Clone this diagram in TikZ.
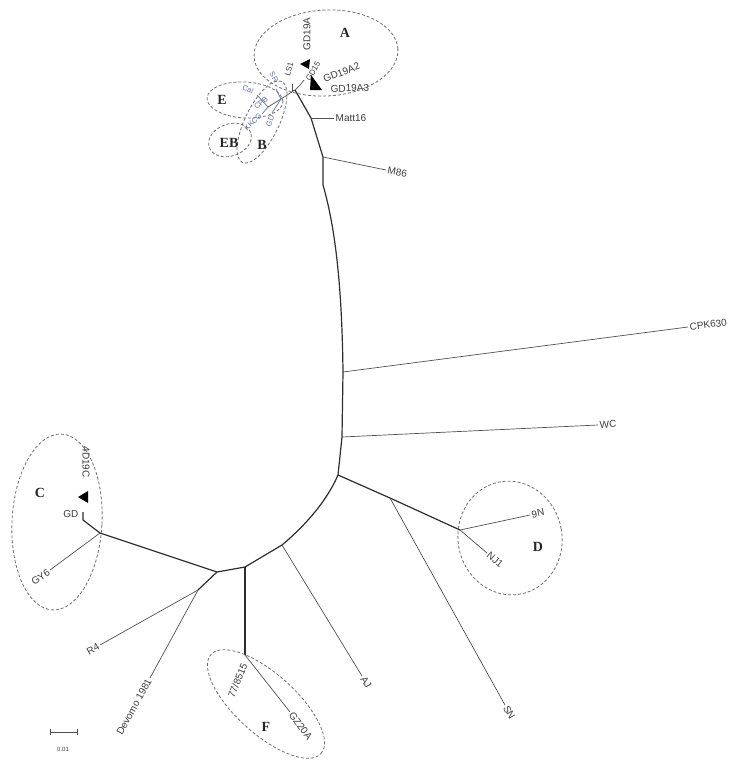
\documentclass[tikz,border=0pt]{standalone}
\usepackage{fontspec}
\setmainfont{Liberation Serif}
\setsansfont{Liberation Sans}
\usetikzlibrary{positioning, calc}
\definecolor{branchgray}{HTML}{2E2E2E}
\definecolor{leafgray}{HTML}{505050}
\definecolor{taxongray}{HTML}{3C3C3C}
\definecolor{cladeblue}{HTML}{6570A6}
\definecolor{ringgray}{HTML}{6E6E6E}

\begin{document}
\begin{tikzpicture}[x=1pt, y=1pt,
    branch/.style={draw=branchgray, line width=1.2pt, line join=round},
    leaf/.style={draw=leafgray, line width=0.7pt},
    taxon/.style={font=\sffamily\fontsize{10}{11}\selectfont, text=taxongray, inner sep=1.5pt},
    bluetaxon/.style={font=\sffamily\fontsize{7.5}{8}\selectfont, text=cladeblue, inner sep=0.5pt},
    clade/.style={font=\rmfamily\bfseries\fontsize{14}{15}\selectfont, text=black!85},
    cladering/.style={draw=ringgray, dash pattern=on 3pt off 2pt, line width=0.8pt}]
    \useasboundingbox (0,0) rectangle (734,-761);

    % inner nodes of the tree
    \coordinate (r0) at (295,-90);
    \coordinate (m1) at (311,-118);
    \coordinate (m2) at (323,-157);
    \coordinate (m3) at (323,-185);
    \coordinate (c1) at (343,-372);
    \coordinate (c2) at (342,-437);
    \coordinate (c3) at (338,-475);
    \coordinate (d0) at (390,-498);
    \coordinate (d1) at (460,-530);
    \coordinate (a0) at (282,-545);
    \coordinate (f0) at (245,-567);
    \coordinate (f1) at (245,-655);
    \coordinate (g0) at (217,-572);
    \coordinate (g1) at (198,-590);
    \coordinate (cn) at (100,-533);
    \coordinate (cg) at (83,-520);
    \coordinate (a1) at (300,-85);
    \coordinate (e1) at (281,-99);
    \coordinate (e2) at (268,-107);

    % leaf ends
    \coordinate (lMatt) at (334,-118);
    \coordinate (lM86) at (386,-170);
    \coordinate (lCPK) at (688,-327);
    \coordinate (lWC) at (598,-425);
    \coordinate (l9N) at (530,-515);
    \coordinate (lNJ) at (487,-553);
    \coordinate (lSN) at (505,-705);
    \coordinate (lAJ) at (362,-676);
    \coordinate (lGZ) at (290,-712);
    \coordinate (lR4) at (100,-645);
    \coordinate (lDev) at (150,-678);
    \coordinate (lGY) at (50,-570);
    \coordinate (lGD) at (83,-512);

    % backbone
    \draw[branch] (r0) -- (m1) -- (m2) -- (m3) .. controls (336,-230) and (342,-290) .. (c1)
        -- (c2) -- (c3) .. controls (325,-505) and (300,-530) .. (a0) -- (f0) -- (g0);
    \draw[branch] (c3) -- (d0) -- (d1);
    \draw[branch] (g0) -- (cn) -- (cg) -- (lGD);
    \draw[branch] (g0) -- (g1);
    \draw[branch] (f0) -- (f1);

    % leaf branches
    \draw[leaf] (m1) -- (lMatt);
    \draw[leaf] (m2) -- (lM86);
    \draw[leaf] (c1) -- (lCPK);
    \draw[leaf] (c2) -- (lWC);
    \draw[leaf] (d1) -- (l9N);
    \draw[leaf] (d1) -- (lNJ);
    \draw[leaf] (d0) -- (lSN);
    \draw[leaf] (a0) -- (lAJ);
    \draw[leaf] (f1) -- (lGZ);
    \draw[leaf] (g1) -- (lR4);
    \draw[leaf] (g1) -- (lDev);
    \draw[leaf] (cn) -- (lGY);
    \draw[leaf] (r0) -- (a1) -- (304,-80);
    \draw[leaf] (r0) -- (292,-90) -- (292,-84);
    \draw[leaf] (r0) -- (e1) -- (e2);
    \draw[leaf, draw=cladeblue] (e1) -- (276,-89);
    \draw[leaf, draw=cladeblue] (e2) -- (257,-95);
    \draw[leaf, draw=cladeblue] (e2) -- (262,-114);
    \draw[leaf, draw=cladeblue] (e1) -- (272,-113);

    % taxon labels
    \node[taxon, anchor=west] (tMatt) at (lMatt) {Matt16};
    \node[taxon, anchor=west, rotate=-10] (tM86) at (lM86) {M86};
    \node[taxon, anchor=west, rotate=7] (tCPK) at (lCPK) {CPK630};
    \node[taxon, anchor=west, rotate=3] (tWC) at (lWC) {WC};
    \node[taxon, anchor=west, rotate=12] (t9N) at (l9N) {9N};
    \node[taxon, anchor=west, rotate=-40] (tNJ) at (lNJ) {NJ1};
    \node[taxon, anchor=west, rotate=-61] (tSN) at (lSN) {SN};
    \node[taxon, anchor=west, rotate=-58] (tAJ) at (lAJ) {AJ};
    \node[taxon, anchor=west, rotate=-53] (tGZ) at (lGZ) {GZ20A};
    \node[taxon, anchor=east, rotate=68] (t77) at (245,-662) {77/8515};
    \node[taxon, anchor=east, rotate=29] (tR4) at (lR4) {R4};
    \node[taxon, anchor=east, rotate=61] (tDev) at (lDev) {Devomo 1981};
    \node[taxon, anchor=east, rotate=37] (tGY) at (lGY) {GY6};
    \node[taxon, anchor=east] (tGD) at (80,-514) {GD};
    \node[taxon, rotate=-90] (t4D) at (86,-462) {4D19C};
    \node[taxon, rotate=90] (tGDA) at (307,-34) {GD19A};
    \node[taxon, anchor=west, rotate=21] (tGDA2) at (322,-80) {GD19A2};
    \node[taxon, anchor=west, rotate=2] (tGDA3) at (329,-89) {GD19A3};
    \node[taxon, font=\sffamily\fontsize{8}{9}\selectfont, rotate=75] (tLS) at (289,-69) {LS1};
    \node[taxon, font=\sffamily\fontsize{8}{9}\selectfont, rotate=60] (tGD15) at (313,-71) {GD15};
    \node[bluetaxon, rotate=-25] (tCal) at (248,-89) {Cal};
    \node[bluetaxon, rotate=-60] (tSR) at (274,-77) {SR};
    \node[bluetaxon, rotate=40] (tCPB) at (261,-103) {CPB};
    \node[bluetaxon, rotate=45] (tKK) at (253,-122) {KKCG};
    \node[bluetaxon, rotate=70] (tGDb) at (270,-121) {GD};

    % markers
    \fill[black] (78,-497) -- (88,-491) -- (88,-503) -- cycle;
    \fill[black] (300,-64) -- (310,-59) -- (309,-69) -- cycle;
    \fill[black] (311,-75) -- (322,-90) -- (310,-90) -- cycle;

    % clade rings
    \draw[cladering] (326,-53) ellipse [x radius=72, y radius=43, rotate=3];
    \draw[cladering] (245,-100) ellipse [x radius=38, y radius=18, rotate=-3];
    \draw[cladering] (262,-122) ellipse [x radius=45, y radius=17, rotate=64];
    \draw[cladering] (230,-140) ellipse [x radius=22, y radius=16, rotate=20];
    \draw[cladering] (57,-522) ellipse [x radius=45, y radius=88, rotate=-3];
    \draw[cladering] (510,-538) ellipse [x radius=52, y radius=57, rotate=10];
    \draw[cladering] (266,-704) ellipse [x radius=74, y radius=30, rotate=-42];

    % clade letters
    \node[clade] (kA) at (345,-33) {A};
    \node[clade] (kE) at (222,-100) {E};
    \node[clade] (kEB) at (229,-143) {EB};
    \node[clade] (kB) at (262,-145) {B};
    \node[clade] (kC) at (40,-493) {C};
    \node[clade] (kD) at (538,-547) {D};
    \node[clade] (kF) at (266,-727) {F};

    % scale bar
    \coordinate (sb1) at (50,-732);
    \coordinate (sb2) at (77,-732);
    \draw[leaf] (sb1) -- (sb2);
    \draw[leaf] ($(sb1)+(0,3)$) -- ($(sb1)+(0,-3)$);
    \draw[leaf] ($(sb2)+(0,3)$) -- ($(sb2)+(0,-3)$);
    \node[taxon, font=\sffamily\fontsize{6}{7}\selectfont] (tScale) at (63,-749) {0.01};
\end{tikzpicture}
\end{document}
